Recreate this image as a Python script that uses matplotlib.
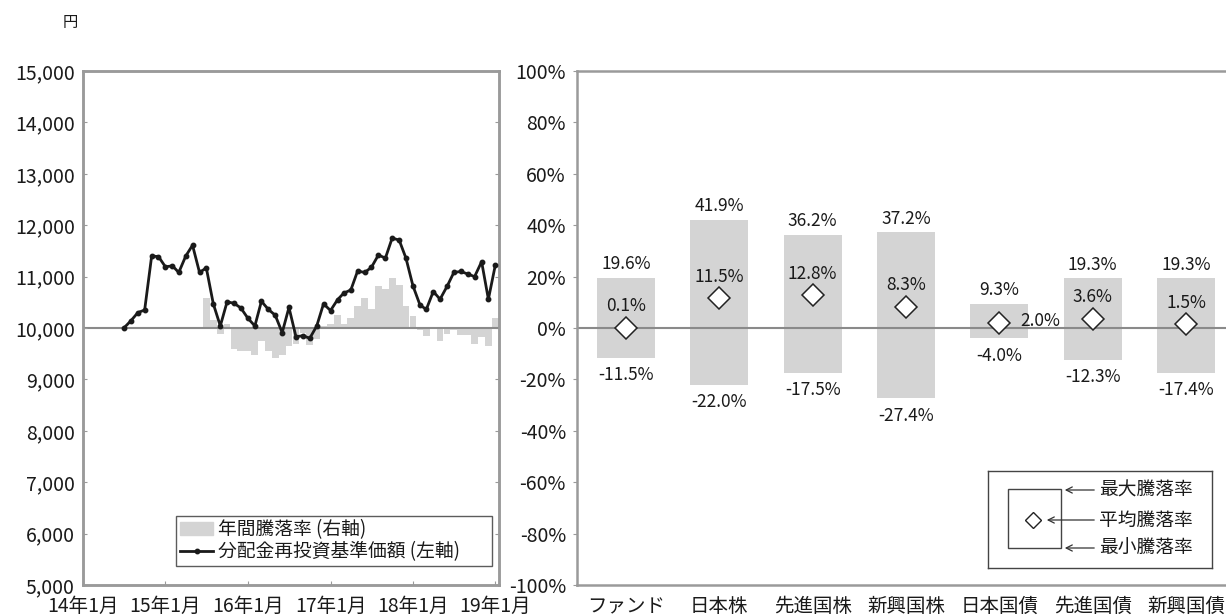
import matplotlib
matplotlib.use('Agg')
import matplotlib.pyplot as plt
from matplotlib.patches import Rectangle
import numpy as np
import pandas as pd

plt.rcParams['font.family'] = ['Noto Sans CJK JP', 'DejaVu Sans']

# 分配金再投資基準価額 (月次, 2014/7 - 2019/1)
nav_start = '2014-07-01'
nav = [10000, 10140, 10300, 10350, 11400, 11390,
       11190, 11210, 11080, 11400, 11610, 11080, 11170, 10470, 10040, 10510, 10480, 10390,
       10190, 10040, 10520, 10360, 10250, 9910, 10400, 9830, 9850, 9800, 10040, 10470,
       10340, 10550, 10680, 10740, 11110, 11080, 11180, 11420, 11360, 11750, 11710, 11360,
       10820, 10450, 10360, 10710, 10560, 10810, 11080, 11100, 11050, 11000, 11290, 10560,
       11230]

# 年間騰落率 (%) 2015/7 - 2019/1
ret_start = '2015-07-01'
ret = [11.7, 3.3, -2.5, 1.5, -8.1, -8.8,
       -8.9, -10.4, -5.1, -9.1, -11.5, -10.6, -6.9, -6.1, -1.9, -6.8, -4.2, 0.8,
       1.5, 5.1, 1.5, 3.7, 8.4, 11.8, 7.5, 16.2, 15.3, 19.6, 16.6, 8.5,
       4.6, -0.9, -3.0, -0.3, -5.0, -2.4, -0.9, -2.8, -2.7, -6.4, -3.6, -7.0,
       3.8]

year_ticks = ['2014-01-01', '2015-01-01', '2016-01-01', '2017-01-01', '2018-01-01', '2019-01-01']
year_labels = ['14年1月', '15年1月', '16年1月', '17年1月', '18年1月', '19年1月']

# 他資産との比較
cats = ['ファンド', '日本株', '先進国株', '新興国株', '日本国債', '先進国債', '新興国債']
max_r = [19.6, 41.9, 36.2, 37.2, 9.3, 19.3, 19.3]
min_r = [-11.5, -22.0, -17.5, -27.4, -4.0, -12.3, -17.4]
avg_r = [0.1, 11.5, 12.8, 8.3, 2.0, 3.6, 1.5]

W, H = 1226, 615
fig = plt.figure(figsize=(W / 100, H / 100), dpi=100)
spine_c = '#9a9a9a'
bar_c = '#d4d4d4'
txt_c = '#1a1a1a'

def px(x0, y0, x1, y1):
    return [x0 / W, 1 - y1 / H, (x1 - x0) / W, (y1 - y0) / H]

# ---- left chart
ax = fig.add_axes(px(83, 71, 499, 585))
ax2 = ax.twinx()
ax.set_zorder(ax2.get_zorder() + 1)
ax.patch.set_visible(False)

nav_dates = pd.date_range(nav_start, periods=len(nav), freq='MS')
ret_dates = pd.date_range(ret_start, periods=len(ret), freq='MS')

ax2.bar(ret_dates, ret, width=30, color=bar_c, align='center')
ax2.set_ylim(-100, 100)
ax2.set_yticks(np.arange(-100, 101, 20))
ax2.set_yticklabels([])
ax2.tick_params(axis='y', direction='in', length=3, color=spine_c)

ax.axhline(10000, color='#8a8a8a', lw=1.5, zorder=1)
ln, = ax.plot(nav_dates, nav, color='#1a1a1a', lw=2, marker='o', ms=3.2, zorder=3)
ax.set_ylim(5000, 15000)
ax.set_yticks(np.arange(5000, 15001, 1000))
ax.set_yticklabels([f'{v:,}' for v in range(5000, 15001, 1000)], fontsize=14, color=txt_c)
ax.set_xlim(pd.Timestamp('2014-01-01'), pd.Timestamp('2019-01-17'))
ax.set_xticks(pd.to_datetime(year_ticks))
ax.set_xticklabels(year_labels, fontsize=14, color=txt_c)
ax.tick_params(axis='x', direction='in', length=3, color=spine_c, pad=8)
ax.tick_params(axis='y', direction='in', length=3, color=spine_c, pad=6)
for a in (ax, ax2):
    for s in a.spines.values():
        s.set_color(spine_c)
        s.set_linewidth(1.8)

bar_handle = Rectangle((0, 0), 1, 1, color=bar_c)
leg = ax.legend([bar_handle, ln], ['年間騰落率 (右軸)', '分配金再投資基準価額 (左軸)'],
                loc='lower left', bbox_to_anchor=(176 / W, 1 - 566 / H, 316 / W, 50 / H),
                bbox_transform=fig.transFigure, mode='expand', fontsize=13.5,
                frameon=True, fancybox=False, edgecolor='#333', borderpad=0.2,
                labelspacing=0.05, handlelength=1.8, handletextpad=0.25, borderaxespad=0)
leg.get_frame().set_linewidth(1.0)
for t in leg.get_texts():
    t.set_color(txt_c)

# ---- right chart
axr = fig.add_axes(px(577, 71, 1235, 585))
xs = np.arange(len(cats))
axr.bar(xs, np.array(max_r) - np.array(min_r), bottom=min_r, width=0.62, color=bar_c, zorder=1)
axr.axhline(0, color='#8a8a8a', lw=1.5, zorder=2)
axr.plot(xs, avg_r, ls='none', marker='D', ms=11, mfc='white', mec='#222', mew=1.1, zorder=3)
for i in range(len(cats)):
    axr.annotate(f'{max_r[i]:.1f}%', (xs[i], max_r[i]), xytext=(0, 10), textcoords='offset points',
                 ha='center', va='center', fontsize=12.5, color=txt_c)
    axr.annotate(f'{min_r[i]:.1f}%', (xs[i], min_r[i]), xytext=(0, -12.5), textcoords='offset points',
                 ha='center', va='center', fontsize=12.5, color=txt_c)
    if cats[i] == '日本国債':
        axr.annotate(f'{avg_r[i]:.1f}%', (xs[i], avg_r[i]), xytext=(15, 1), textcoords='offset points',
                     ha='left', va='center', fontsize=12.5, color=txt_c)
    else:
        axr.annotate(f'{avg_r[i]:.1f}%', (xs[i], avg_r[i]), xytext=(0, 15.5), textcoords='offset points',
                     ha='center', va='center', fontsize=12.5, color=txt_c)

axr.set_xlim(-0.525, len(cats) - 0.475)
axr.set_ylim(-100, 100)
axr.set_yticks(np.arange(-100, 101, 20))
axr.set_yticklabels([f'{v}%' for v in range(-100, 101, 20)], fontsize=14, color=txt_c)
axr.set_xticks(xs)
axr.set_xticklabels(cats, fontsize=14, color=txt_c)
axr.tick_params(axis='x', length=0, pad=8)
axr.tick_params(axis='y', direction='out', length=3, color=spine_c, pad=5)
for s in axr.spines.values():
    s.set_color(spine_c)
    s.set_linewidth(1.8)

# 凡例 (右)
lg = fig.add_axes(px(988, 471, 1212, 568))
lg.set_xlim(988, 1212)
lg.set_ylim(568, 471)
lg.set_xticks([])
lg.set_yticks([])
for s in lg.spines.values():
    s.set_color('#444')
    s.set_linewidth(1.0)
lg.add_patch(Rectangle((1008, 489), 53, 59, fill=False, ec='#444', lw=1.0))
lg.plot([1033], [520], marker='D', ms=8, mfc='white', mec='#222', mew=1.0)
for yy, x_end, txt in [(490, 1062, '最大騰落率'), (520, 1044, '平均騰落率'), (548, 1062, '最小騰落率')]:
    lg.annotate('', xy=(x_end, yy), xytext=(1097, yy),
                arrowprops=dict(arrowstyle='->', lw=0.9, color='#333', mutation_scale=11))
    lg.text(1099, yy, txt, ha='left', va='center', fontsize=13.5, color=txt_c)

fig.text(70 / W, 1 - 22 / H, '円', fontsize=11, ha='center', va='center', color=txt_c)

fig.savefig('out.png', dpi=100)
